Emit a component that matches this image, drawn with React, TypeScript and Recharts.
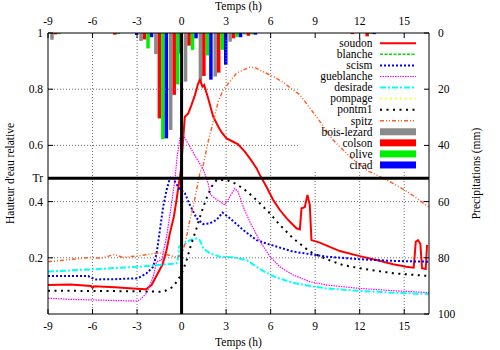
import { ComposedChart, Line, Bar, XAxis, YAxis, ReferenceLine, Legend } from 'recharts';

const hourTicks = [-9, -6, -3, 0, 3, 6, 9, 12, 15];
const heightTicks = [0.2, 0.4, 0.483, 0.6, 0.8, 1];
const rainTicks = [0, 20, 40, 60, 80, 100];
const TR = 0.483;
const T_MAX = 16.67;

// water level series, [hour, relative height]
const soudon = [
  [-9, 0.103], [-7.5, 0.105], [-6.1, 0.1], [-6, 0.093], [-5.9, 0.099], [-4.5, 0.095], [-3, 0.09],
  [-2.4, 0.088], [-2.02, 0.103], [-1.28, 0.177], [-1.01, 0.228], [-0.79, 0.287], [-0.52, 0.346],
  [-0.34, 0.406], [-0.18, 0.465], [-0.05, 0.512], [0.11, 0.625], [0.22, 0.702], [0.45, 0.714],
  [0.67, 0.744], [0.9, 0.779], [1.12, 0.821], [1.23, 0.833], [1.41, 0.809], [1.52, 0.815],
  [1.79, 0.768], [2.13, 0.702], [2.47, 0.667], [2.69, 0.647], [3.03, 0.625], [3.47, 0.613],
  [3.81, 0.604], [4.26, 0.578], [4.6, 0.554], [5.05, 0.519], [5.27, 0.495], [5.72, 0.453],
  [6.17, 0.406], [6.62, 0.37], [7.07, 0.341], [7.52, 0.317], [7.74, 0.305], [7.97, 0.301],
  [8.08, 0.376], [8.3, 0.38], [8.48, 0.424], [8.64, 0.388], [8.75, 0.263], [9.31, 0.254],
  [10.66, 0.224], [12, 0.206], [13.13, 0.192], [14.25, 0.177], [15.15, 0.168], [15.64, 0.165],
  [15.78, 0.257], [15.93, 0.263], [16.09, 0.249], [16.2, 0.163], [16.45, 0.16], [16.54, 0.246],
];
const blanche: number[][] = [];
const scism = [
  [-9, 0.135], [-6.3, 0.135], [-6.1, 0.13], [-5.84, 0.123], [-4.5, 0.124], [-3, 0.127],
  [-2.81, 0.131], [-2.36, 0.145], [-1.91, 0.168], [-1.68, 0.216], [-1.46, 0.299], [-1.24, 0.382],
  [-1.01, 0.441], [-0.79, 0.483], [-0.61, 0.489], [-0.45, 0.471], [-0.16, 0.447], [0.22, 0.43],
  [0.56, 0.388], [1.01, 0.341], [1.46, 0.32], [1.91, 0.323], [2.36, 0.335], [2.76, 0.361],
  [3.25, 0.341], [4.15, 0.299], [5.05, 0.263], [5.95, 0.247], [7.52, 0.222], [9.76, 0.204],
  [12, 0.195], [14.25, 0.189], [16.67, 0.186],
];
const gueblanche = [
  [-9, 0.056], [-7.5, 0.052], [-6, 0.05], [-4.5, 0.048], [-3, 0.046], [-2.81, 0.05], [-2.36, 0.074],
  [-1.91, 0.133], [-1.68, 0.186], [-1.35, 0.192], [-1.01, 0.275], [-0.67, 0.394], [-0.45, 0.477],
  [-0.3, 0.56], [-0.11, 0.625], [0.11, 0.637], [0.56, 0.595], [1.01, 0.554], [1.46, 0.515],
  [1.79, 0.465], [1.95, 0.424], [2.24, 0.412], [2.58, 0.4], [2.92, 0.388], [3.25, 0.417],
  [3.59, 0.447], [3.81, 0.435], [4.15, 0.382], [4.6, 0.328], [5.27, 0.26], [5.95, 0.205],
  [6.62, 0.168], [7.52, 0.139], [8.64, 0.115], [9.76, 0.103], [12, 0.091], [14.25, 0.083],
  [16.67, 0.076],
];
const desirade = [
  [-9, 0.151], [-6, 0.159], [-3, 0.168], [-0.34, 0.18], [-0.22, 0.2], [-0.16, 0.24], [0.11, 0.246],
  [0.56, 0.263], [1.01, 0.269], [1.23, 0.263], [1.46, 0.234], [1.91, 0.216], [2.58, 0.204],
  [3.47, 0.202], [4.38, 0.192], [5.27, 0.16], [5.95, 0.14], [6.4, 0.13], [7.52, 0.111],
  [8.64, 0.1], [9.76, 0.091], [12, 0.082], [14.25, 0.076], [16.67, 0.071],
];
const pompage: number[][] = [];
const pontm1 = [
  [-9, 0.083], [-6, 0.082], [-3, 0.081], [-1.24, 0.079], [-0.56, 0.097], [-0.11, 0.133],
  [0.11, 0.157], [0.34, 0.192], [0.67, 0.252], [1.01, 0.305], [1.35, 0.364], [1.68, 0.412],
  [2.02, 0.453], [2.36, 0.477], [3.03, 0.477], [3.59, 0.465], [4.15, 0.447], [4.82, 0.417],
  [5.27, 0.394], [5.95, 0.358], [6.62, 0.317], [7.52, 0.269], [8.64, 0.222], [9.76, 0.195],
  [10.88, 0.174], [12, 0.163], [14.25, 0.145], [16.67, 0.135],
];
const spitz = [
  [-9, 0.186], [-7.5, 0.194], [-6, 0.202], [-5.5, 0.198], [-4.5, 0.212], [-4, 0.202], [-3, 0.206],
  [-1.5, 0.218], [-0.34, 0.202], [0, 0.21], [0.11, 0.228], [0.34, 0.275], [0.56, 0.335],
  [0.78, 0.382], [1.01, 0.441], [1.23, 0.501], [1.46, 0.53], [1.79, 0.613], [2.13, 0.684],
  [2.47, 0.756], [2.8, 0.797], [3.25, 0.827], [3.7, 0.857], [4.15, 0.868], [4.6, 0.878],
  [4.94, 0.877], [5.5, 0.862], [6.17, 0.845], [6.84, 0.825], [7.52, 0.797], [7.97, 0.78],
  [9.09, 0.702], [10.21, 0.619], [11.34, 0.56], [12.46, 0.512], [13.13, 0.495], [14.25, 0.465],
  [15.37, 0.43], [16.67, 0.38],
];

// hourly rain (mm)
const rainHours = [
  -8.35, -7.35, -6.35, -5.35, -4.35, -3.35, -2.35, -1.35, -0.35, 0.65, 1.65,
  2.65, 3.65, 4.65, 5.65, 6.65, 7.65, 8.65, 9.65, 10.65, 11.65, 12.65,
];
const boisLezard = [2.4, 0, 0, 0, 0, 0, 2.8, 7.5, 34.5, 17.3, 17.9, 15.5, 3.1, 0.5, 0, 0, 0, 0, 0, 0, 0, 0];
const colson = [0.5, 0, 0, 0, 0.6, 0, 2.3, 30.4, 22, 4.5, 15.3, 14.1, 1.9, 1, 0, 0, 0, 0, 0, 0, 0.4, 1.2];
const olive = [0.4, 0, 0, 0, 0.4, 0, 5.5, 37.8, 18.3, 6, 8, 6, 1.4, 0.5, 0, 0, 0, 0, 0, 0, 0, 0.3];
const cirad = [0, 0, 0, 0, 0, 0.7, 1.5, 37.5, 7.3, 1.9, 16.6, 11.3, 1.5, 0.6, 0, 0, 0, 0, 0, 0, 0, 0.4];

const rainData = rainHours.map((t, i) => ({
  t, boisLezard: boisLezard[i], colson: colson[i], olive: olive[i], cirad: cirad[i],
}));

const toPoints = (pairs: number[][]) => pairs.map(([t, v]) => ({ t, v }));

const lineSeries = [
  { name: 'soudon', pairs: soudon, color: '#ff0000', width: 2, dash: undefined },
  { name: 'blanche', pairs: blanche, color: '#00dd00', width: 1.5, dash: '3 1.5' },
  { name: 'scism', pairs: scism, color: '#0000ff', width: 2, dash: '2 2' },
  { name: 'gueblanche', pairs: gueblanche, color: '#ff00ff', width: 1.2, dash: '1.5 1' },
  { name: 'desirade', pairs: desirade, color: '#00ffff', width: 2, dash: '6 2 2 2' },
  { name: 'pompage', pairs: pompage, color: '#ffff00', width: 1.5, dash: '2 3' },
  { name: 'pontm1', pairs: pontm1, color: '#000000', width: 2, dash: '2 4.5' },
  { name: 'spitz', pairs: spitz, color: '#ff6020', width: 1.5, dash: '4 2 1 2 1 2' },
];

const barSeries = [
  { name: 'bois-lezard', key: 'boisLezard', color: '#8a8a8a' },
  { name: 'colson', key: 'colson', color: '#ff0000' },
  { name: 'olive', key: 'olive', color: '#00ee00' },
  { name: 'cirad', key: 'cirad', color: '#0000ff' },
];

const keyOrder = [...lineSeries.map((s) => s.name), ...barSeries.map((s) => s.name)];

const gridFull = [-6, -3, 3, 6];
const gridLow = [9, 12, 15];
const gridRows = [0.2, 0.4];
const gridRowsShort = [0.6, 0.8];

const FONT = "'Liberation Serif', 'Times New Roman', serif";
const FS = 11.5;
const gridStroke = '#707070';

function KeyBox(props: any) {
  const payload = [...(props.payload ?? [])].sort(
    (a: any, b: any) => keyOrder.indexOf(a.value) - keyOrder.indexOf(b.value)
  );
  return (
    <svg width={130} height={140} style={{ display: 'block', overflow: 'visible' }}>
      {payload.map((it: any, i: number) => {
        const y = 6.3 + i * 11.06;
        const ls = lineSeries.find((s) => s.name === it.value);
        return (
          <g key={it.value}>
            <text x={72.5} y={y} dy="0.33em" textAnchor="end" fontSize={FS} fontFamily={FONT} fill="#000">
              {it.value}
            </text>
            {ls ? (
              <line x1={80} x2={116} y1={y} y2={y} stroke={ls.color} strokeWidth={ls.width} strokeDasharray={ls.dash} />
            ) : (
              <rect x={80} y={y - 3.5} width={36} height={7} fill={it.color} />
            )}
          </g>
        );
      })}
    </svg>
  );
}

export default function App() {
  const tickStyle = { fontSize: FS, fill: '#000', fontFamily: FONT };
  return (
    <div style={{ position: 'absolute', left: 0, top: 0, fontFamily: FONT, background: '#fff' }}>
      <ComposedChart
        width={500}
        height={350}
        data={rainData}
        margin={{ top: 0, right: 0, bottom: 0, left: 0 }}
        barGap={0}
        barCategoryGap={0}
      >
        <XAxis
          xAxisId="top"
          orientation="top"
          dataKey="t"
          type="number"
          domain={[-9, T_MAX]}
          allowDataOverflow
          ticks={hourTicks}
          interval={0}
          height={33}
          stroke="#000"
          tickSize={-5}
          tickMargin={13}
          tick={tickStyle}
          label={{ value: 'Temps (h)', position: 'insideTop', offset: 2, fontSize: FS, fill: '#000', fontFamily: FONT }}
        />
        <XAxis
          xAxisId="bottom"
          orientation="bottom"
          dataKey="t"
          type="number"
          domain={[-9, T_MAX]}
          allowDataOverflow
          ticks={hourTicks}
          interval={0}
          height={36}
          stroke="#000"
          tickSize={-5}
          tickMargin={13}
          tick={tickStyle}
          label={{ value: 'Temps (h)', position: 'insideBottom', offset: 4, fontSize: FS, fill: '#000', fontFamily: FONT }}
        />
        <YAxis
          yAxisId="left"
          orientation="left"
          type="number"
          domain={[0, 1]}
          allowDataOverflow
          ticks={heightTicks}
          interval={0}
          width={48}
          stroke="#000"
          tickSize={-5}
          tickMargin={10}
          tick={tickStyle}
          tickFormatter={(v: number) => (v === TR ? 'Tr' : String(v))}
          label={{
            value: "Hauteur d'eau relative", angle: -90, position: 'insideLeft', offset: 10,
            style: { textAnchor: 'middle' }, fontSize: FS, fill: '#000', fontFamily: FONT,
          }}
        />
        <YAxis
          yAxisId="right"
          orientation="right"
          type="number"
          domain={[0, 100]}
          reversed
          allowDataOverflow
          ticks={rainTicks}
          interval={0}
          width={71}
          stroke="#000"
          tickSize={-5}
          tickMargin={14}
          tick={tickStyle}
          label={{
            value: 'Precipitations (mm)', angle: -90, position: 'insideRight', offset: 24,
            style: { textAnchor: 'middle' }, fontSize: FS, fill: '#000', fontFamily: FONT,
          }}
        />

        {gridFull.map((x) => (
          <ReferenceLine key={`gx${x}`} xAxisId="bottom" yAxisId="left"
            segment={[{ x, y: 0 }, { x, y: 1 }]} stroke={gridStroke} strokeDasharray="1 2" />
        ))}
        {gridLow.map((x) => (
          <ReferenceLine key={`gl${x}`} xAxisId="bottom" yAxisId="left"
            segment={[{ x, y: 0 }, { x, y: 0.505 }]} stroke={gridStroke} strokeDasharray="1 2" />
        ))}
        {gridRows.map((y) => (
          <ReferenceLine key={`gy${y}`} xAxisId="bottom" yAxisId="left"
            segment={[{ x: -9, y }, { x: T_MAX, y }]} stroke={gridStroke} strokeDasharray="1 2" />
        ))}
        {gridRowsShort.map((y) => (
          <ReferenceLine key={`gs${y}`} xAxisId="bottom" yAxisId="left"
            segment={[{ x: -9, y }, { x: 7.97, y }]} stroke={gridStroke} strokeDasharray="1 2" />
        ))}

        {barSeries.map((b) => (
          <Bar
            key={b.key}
            xAxisId="top"
            yAxisId="right"
            dataKey={b.key}
            name={b.name}
            fill={b.color}
            barSize={3.5}
            legendType="rect"
            isAnimationActive={false}
          />
        ))}

        {lineSeries.map((s) => (
          <Line
            key={s.name}
            xAxisId="bottom"
            yAxisId="left"
            data={toPoints(s.pairs)}
            dataKey="v"
            name={s.name}
            type="linear"
            stroke={s.color}
            strokeWidth={s.width}
            strokeDasharray={s.dash}
            dot={false}
            activeDot={false}
            legendType="line"
            isAnimationActive={false}
          />
        ))}

        <ReferenceLine xAxisId="bottom" yAxisId="left" x={0} stroke="#000" strokeWidth={3} />
        <ReferenceLine xAxisId="bottom" yAxisId="left" y={TR} stroke="#000" strokeWidth={3} />

        <Legend
          layout="vertical"
          align="center"
          verticalAlign="middle"
          content={<KeyBox />}
          wrapperStyle={{ left: 300, top: 37, width: 130, height: 140 }}
        />
      </ComposedChart>
    </div>
  );
}
